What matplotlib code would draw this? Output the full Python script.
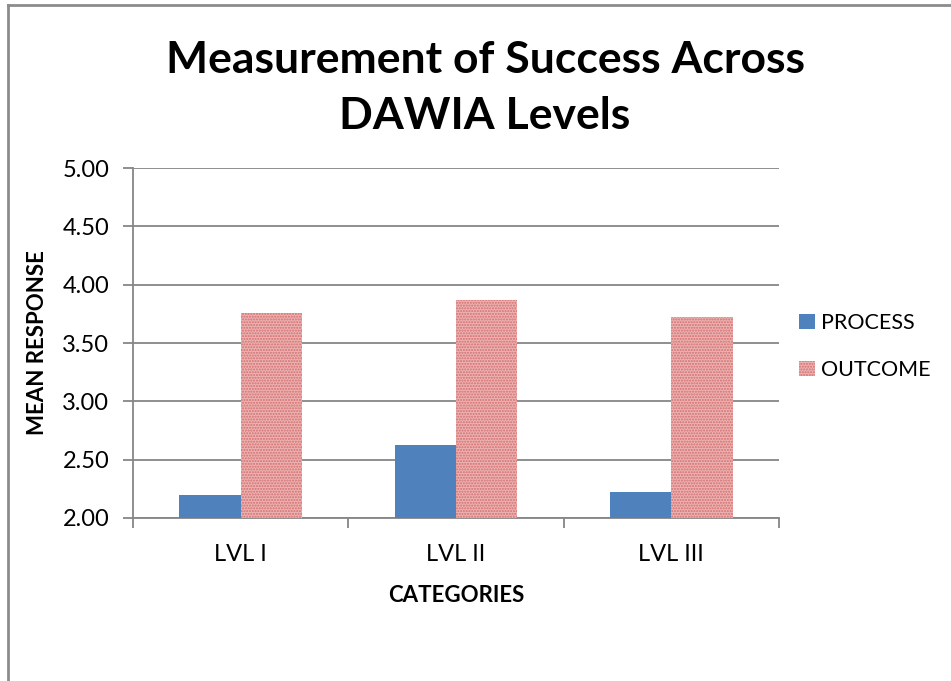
import numpy as np
import matplotlib
matplotlib.use("Agg")
import matplotlib.pyplot as plt
from matplotlib.lines import Line2D

plt.rcParams["font.family"] = ["Lato", "DejaVu Sans"]
plt.rcParams["hatch.linewidth"] = 1.0

# data
categories = ["LVL I", "LVL II", "LVL III"]
process = [2.20, 2.63, 2.22]
outcome = [3.76, 3.87, 3.72]
y_ticks = [2.0, 2.5, 3.0, 3.5, 4.0, 4.5, 5.0]

blue = "#4F81BD"
pink_face = "#ECB2B2"
pink_hatch = "#D46E6E"
grid_gray = "#868686"

fig = plt.figure(figsize=(9.51, 6.81), dpi=100)
ax = fig.add_axes([133 / 951, 1 - 518 / 681, (779 - 133) / 951, (518 - 168) / 681])

x = np.arange(len(categories))
w = 0.285
ax.bar(x - w / 2, process, width=w, color=blue, label="PROCESS", zorder=3)
ax.bar(x + w / 2, outcome, width=w, color=pink_face, edgecolor=pink_hatch,
       linewidth=0, hatch="......", label="OUTCOME", zorder=3)

ax.set_ylim(2.0, 5.0)
ax.set_xlim(-0.5, len(categories) - 0.5)
ax.set_yticks(y_ticks)
ax.set_yticklabels([f"{v:.2f}" for v in y_ticks], fontsize=17)
ax.yaxis.grid(True, color=grid_gray, linewidth=1.3, zorder=0)
ax.set_axisbelow(True)

ax.set_xticks(x)
ax.set_xticklabels(categories, fontsize=17)
ax.set_xticks(np.arange(-0.5, len(categories)), minor=True)
ax.tick_params(axis="x", which="major", length=0, pad=19)
ax.tick_params(axis="x", which="minor", length=7, width=1.3, color=grid_gray, direction="out")
ax.tick_params(axis="y", length=7, width=1.3, color=grid_gray, pad=10)

for s in ["top", "right"]:
    ax.spines[s].set_visible(False)
for s in ["left", "bottom"]:
    ax.spines[s].set_color(grid_gray)
    ax.spines[s].set_linewidth(1.3)

ax.set_ylabel("MEAN RESPONSE", fontsize=16, fontweight="bold", labelpad=10)
ax.set_xlabel("CATEGORIES", fontsize=16, fontweight="bold", labelpad=14)

fig.text(0.51, 0.871, "Measurement of Success Across\nDAWIA Levels", ha="center",
         va="center", fontsize=32, fontweight="bold", linespacing=1.5)

ax.legend(loc="center left", bbox_to_anchor=(1.0, 0.49), frameon=False, fontsize=15.5,
          handlelength=0.7, handleheight=0.7, handletextpad=0.3, labelspacing=1.25,
          borderaxespad=0.55)

# chart area border (left and top edges visible)
fig.add_artist(Line2D([7.5 / 951, 7.5 / 951], [0, 1 - 5 / 681], color="#8C8C8C", lw=2,
                      transform=fig.transFigure))
fig.add_artist(Line2D([7.5 / 951, 1], [1 - 5 / 681, 1 - 5 / 681], color="#8C8C8C", lw=2,
                      transform=fig.transFigure))

fig.savefig("out.png", dpi=100, facecolor="white")
